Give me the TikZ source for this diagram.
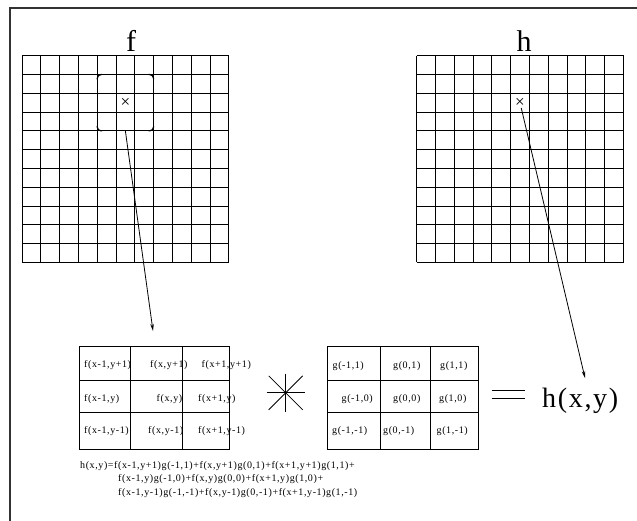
\documentclass[tikz,border=0pt]{standalone}
\usepackage{fontspec}
\setmainfont{Liberation Serif}
\newfontfamily\tabfont[LetterSpace=6]{Liberation Serif}
\newfontfamily\hxyfont[LetterSpace=6]{Liberation Serif}
\usetikzlibrary{arrows.meta}
\begin{document}
\begin{tikzpicture}[x=1pt,y=-1pt,
  gridline/.style={line width=1pt},
  frameline/.style={line width=1.2pt, draw=black!80},
  cell/.style={font=\tabfont\fontsize{10}{11}\selectfont, anchor=west, inner sep=0pt},
  formula/.style={font=\tabfont\fontsize{10}{11}\selectfont, anchor=west, inner sep=0pt},
  biglabel/.style={font=\fontsize{30}{30}\selectfont, anchor=base, inner sep=0pt},
  crossmark/.style={font=\fontsize{17}{17}\selectfont, inner sep=0.5pt},
  pointer/.style={line width=0.8pt, -{Stealth[length=7pt,width=3.5pt]}},
  tableline/.style={line width=1pt},
  starline/.style={line width=0.8pt},
  corner/.style={line width=1.2pt, rounded corners=4pt}]
\useasboundingbox (0,0) rectangle (637,521);
% frame
\draw[frameline] (637,8) -- (10,8) -- (10,521);
% labels
\node[biglabel] (flabel) at (131,51.5) {f};
\node[biglabel] (hlabel) at (524,51.5) {h};
% selection box in f: only its rounded corners show between the grid lines
\draw[corner] (97.2,79.5) -- (97.2,74.5) -- (102.2,74.5);
\draw[corner] (148.6,74.5) -- (153.6,74.5) -- (153.6,79.5);
\draw[corner] (153.6,125.9) -- (153.6,130.9) -- (148.6,130.9);
\draw[corner] (102.2,130.9) -- (97.2,130.9) -- (97.2,125.9);
% grids
\foreach \i in {0,...,11}{
  \draw[gridline] (22+\i*18.8,55.7) -- (22+\i*18.8,262.5);
  \draw[gridline] (22,55.7+\i*18.8) -- (228.8,55.7+\i*18.8);
  \draw[gridline] (416.7+\i*18.8,55.7) -- (416.7+\i*18.8,262.5);
  \draw[gridline] (416.7,55.7+\i*18.8) -- (623.5,55.7+\i*18.8);
}
% crosses
\node[crossmark] (fx) at (125.4,102.7) {×};
\node[crossmark] (hx) at (520,102.7) {×};
\coordinate (fbot) at (125.4,131);
\coordinate (ftip) at (153,331);
\coordinate (htip) at (585,378);
\draw[pointer] (fbot) -- (ftip);
\draw[pointer] (hx) -- (htip);
% f table text
\node[cell] (f11) at (84,365) {f(x-1,y+1)};
\node[cell] (f12) at (150,365) {f(x,y+1)};
\node[cell] (f13) at (201.5,365) {f(x+1,y+1)};
\node[cell] (f21) at (84,399) {f(x-1,y)};
\node[cell] (f22) at (156.5,399) {f(x,y)};
\node[cell] (f23) at (198,399) {f(x+1,y)};
\node[cell] (f31) at (84,431.5) {f(x-1,y-1)};
\node[cell] (f32) at (148,431.5) {f(x,y-1)};
\node[cell] (f33) at (198,431.5) {f(x+1,y-1)};
% f table lines
\draw[tableline] (79,346.7) rectangle (229,449.5);
\draw[tableline] (130,346.7) -- (130,449.5);
\draw[tableline] (182,346.7) -- (182,449.5);
\draw[tableline] (79,380) -- (229,380);
\draw[tableline] (79,412) -- (229,412);
% g table text
\node[cell] (g11) at (332.5,366) {g(-1,1)};
\node[cell] (g12) at (393,366) {g(0,1)};
\node[cell] (g13) at (440,366) {g(1,1)};
\node[cell] (g21) at (341.5,399) {g(-1,0)};
\node[cell] (g22) at (393,399) {g(0,0)};
\node[cell] (g23) at (439,399) {g(1,0)};
\node[cell] (g31) at (332,431.5) {g(-1,-1)};
\node[cell] (g32) at (383,431.5) {g(0,-1)};
\node[cell] (g33) at (436.5,431.5) {g(1,-1)};
% g table lines
\draw[tableline] (327,346.7) rectangle (478,449.5);
\draw[tableline] (380,346.7) -- (380,449.5);
\draw[tableline] (430.7,346.7) -- (430.7,449.5);
\draw[tableline] (327,380) -- (478,380);
\draw[tableline] (327,412) -- (478,412);
% convolution star
\coordinate (star) at (285.7,392.8);
\draw[starline] (star) ++(0,-19) -- ++(0,38);
\draw[starline] (star) ++(-19,0) -- ++(38,0);
\draw[starline] (star) ++(-17,-17) -- ++(34,34);
\draw[starline] (star) ++(-17,17) -- ++(34,-34);
% equals sign
\draw[line width=1pt] (491.5,390) -- (525,390);
\draw[line width=1pt] (491.5,398.3) -- (525,398.3);
% result
\node[font=\hxyfont\fontsize{28}{28}\selectfont, anchor=base west, inner sep=0pt] (hxy) at (542,407) {h(x,y)};
% formula
\node[formula] (eq1) at (80,466) {h(x,y)=f(x-1,y+1)g(-1,1)+f(x,y+1)g(0,1)+f(x+1,y+1)g(1,1)+};
\node[formula] (eq2) at (118,479.5) {f(x-1,y)g(-1,0)+f(x,y)g(0,0)+f(x+1,y)g(1,0)+};
\node[formula] (eq3) at (118,493) {f(x-1,y-1)g(-1,-1)+f(x,y-1)g(0,-1)+f(x+1,y-1)g(1,-1)};
\end{tikzpicture}
\end{document}
